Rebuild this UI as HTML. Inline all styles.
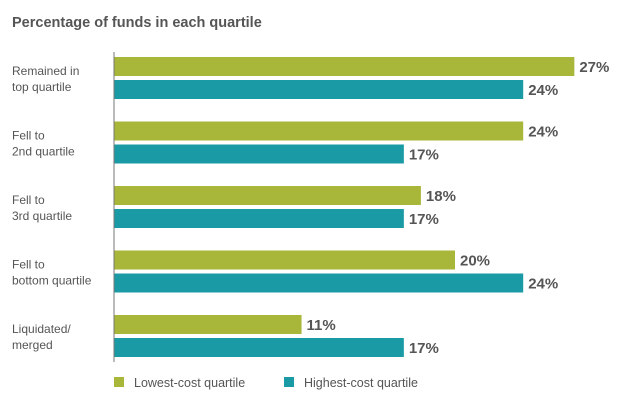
<!DOCTYPE html>
<html><head><meta charset="utf-8"><style>
body{margin:0;background:#fff;font-family:"Liberation Sans",sans-serif;}
#c{position:relative;width:640px;height:406px;overflow:hidden;}
</style></head><body>
<div id="c">
<svg id="s" width="640" height="406">
<text x="12" y="27" font-size="14.5" font-weight="bold" fill="#555">Percentage of funds in each quartile</text>
</svg>
</div>
<script>
const categories=[["Remained in","top quartile"],["Fell to","2nd quartile"],["Fell to","3rd quartile"],["Fell to","bottom quartile"],["Liquidated/","merged"]];
const lowestCost=[27,24,18,20,11];
const highestCost=[24,17,17,24,17];
const seriesNames=["Lowest-cost quartile","Highest-cost quartile"];
const NS="http://www.w3.org/2000/svg";
const svg=document.getElementById('s');
const x0=114,pxPer=17.05,top0=57,pitch=64.5,bh=19,gap=4;
const xs=v=>x0+v*pxPer;
const colors=["#a8b63a","#1a9aa5"];
function el(t,a){const e=document.createElementNS(NS,t);for(const k in a)e.setAttribute(k,a[k]);svg.appendChild(e);return e;}
categories.forEach((c,i)=>{
  const y=top0+i*pitch;
  const t=el('text',{x:12,y:y+18,'font-size':12,fill:'#555'});
  
  
  c.forEach((ln,j)=>{const ts=document.createElementNS(NS,'tspan');ts.setAttribute('x',12);ts.setAttribute('dy',j?16:0);ts.textContent=ln;t.appendChild(ts);});
  [lowestCost[i],highestCost[i]].forEach((v,k)=>{
    const by=y+k*(bh+gap);
    const r=el('rect',{x:x0,y:by,width:xs(v)-x0,height:bh,fill:colors[k]});
    
    
    const l=el('text',{x:xs(v)+5,y:by+15,'font-size':15,'font-weight':'bold',fill:'#555'});
    
    
    l.textContent=v+'%';
  });
});
const ax=el('line',{x1:x0,x2:x0,y1:52,y2:362,stroke:'#777','stroke-width':1});


const lx=[114,284];
seriesNames.forEach((n,k)=>{
  const r=el('rect',{x:lx[k],y:377,width:10,height:10,fill:colors[k]});
  
  
  const t=el('text',{x:lx[k]+20,y:387,'font-size':12.5,fill:'#555'});
  
  
  t.textContent=n;
});
</script>
</body></html>
